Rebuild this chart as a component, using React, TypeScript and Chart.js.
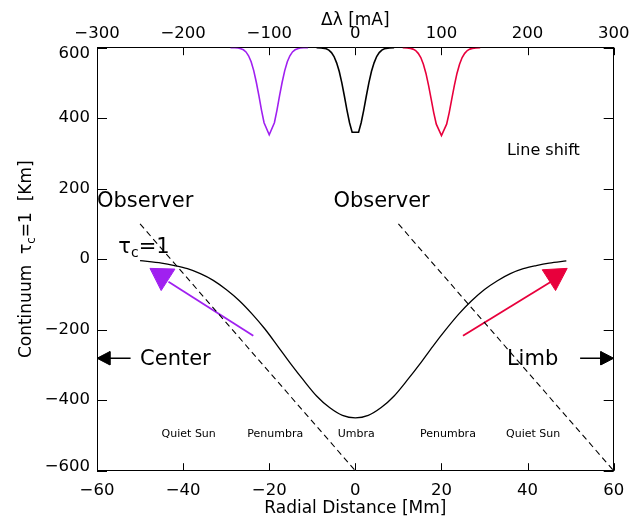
import React, { useEffect, useRef } from "react";
import { Chart, registerables } from "chart.js";

Chart.register(...registerables);

const FONT = "'DejaVu Sans', sans-serif";
const PURPLE = "#a020f0";
const RED = "#e8003c";

// Continuum tau_c = 1 surface across the spot: radial distance [Mm] vs height [km]
const radialMm = [-50, -45, -42, -39, -36, -33, -30, -27, -24, -21, -18, -15, -12, -9, -6, -3, 0, 3, 6, 9, 12, 15, 18, 21, 24, 27, 30, 33, 36, 39, 42, 45, 49];
const tauHeightKm = [-4, -11, -18, -27, -41, -60, -86, -117, -155, -198, -247, -297, -344, -388, -421, -443, -450, -443, -421, -388, -344, -297, -247, -200, -156, -118, -86, -61, -41, -27, -18, -11, -5];

// Lines of sight towards the observer
const sightCenterX = [-50, 0];
const sightCenterY = [100, -600];
const sightLimbX = [10, 60];
const sightLimbY = [100, -600];

// Blue-shifted flow arrow (center side)
const blueShaftX = [-23.7, -43.4];
const blueShaftY = [-217, -64];
const blueHeadX = [-47.7, -41.9, -45.1, -47.7];
const blueHeadY = [-26, -28, -89, -26];

// Red-shifted flow arrow (limb side)
const redShaftX = [25, 46.1];
const redShaftY = [-217, -59];
const redHeadX = [43.4, 49.2, 46.5, 43.4];
const redHeadY = [-30, -26, -89, -30];

// Direction markers
const centerShaftX = [-52.2, -57];
const centerShaftY = [-281, -281];
const centerHeadX = [-60, -57, -57, -60];
const centerHeadY = [-281, -262, -300, -281];
const limbShaftX = [52.2, 57];
const limbShaftY = [-281, -281];
const limbHeadX = [60, 57, 57, 60];
const limbHeadY = [-281, -262, -300, -281];

// Spectral line profiles: wavelength shift [mA] vs intensity (plotted on the height scale)
const blueProfileDl = [-145, -140, -136, -133, -130, -127, -124, -121, -118, -115, -112, -109, -106, -100, -94, -91, -88, -85, -82, -79, -76, -73, -70, -67, -64, -60, -55];
const blueProfileI = [600, 600, 599, 597, 594, 588, 577, 560, 535, 502, 464, 423, 387, 353, 387, 423, 464, 502, 535, 560, 577, 588, 594, 597, 599, 600, 600];
const restProfileDl = [-45, -39.75, -33.75, -30.75, -27.75, -24.75, -21.75, -18.75, -15.75, -12.75, -9.75, -6.75, -3.75, 3.75, 6.75, 9.75, 12.75, 15.75, 18.75, 21.75, 24.75, 27.75, 30.75, 33.75, 39.75, 45];
const restProfileI = [600, 599, 597, 593, 586, 575, 557, 533, 501, 463, 423, 387, 360, 360, 387, 423, 463, 501, 533, 557, 575, 586, 593, 597, 599, 600];
const redProfileDl = [55, 60, 64, 67, 70, 73, 76, 79, 82, 85, 88, 91, 94, 100, 106, 109, 112, 115, 118, 121, 124, 127, 130, 133, 136, 140, 145];
const redProfileI = [600, 599, 598, 596, 592, 584, 572, 553, 527, 493, 455, 416, 383, 351, 383, 416, 455, 493, 527, 553, 572, 584, 592, 596, 598, 599, 600];

// Axis ranges and tick steps
const radialRange = [-60, 60];
const radialStep = 20;
const shiftRange = [-300, 300];
const shiftStep = 100;
const heightRange = [-600, 600];
const heightStep = 200;

const zip = (xs: number[], ys: number[]) => xs.map((x, i) => ({ x, y: ys[i] }));
const minus = (v: number | string) => String(v).replace("-", "\u2212");

type Note = { text: string; x: number; y: number; size: number; align: CanvasTextAlign };
const notes: Note[] = [
  { text: "Observer", x: -60, y: 148, size: 21, align: "left" },
  { text: "Observer", x: -5.1, y: 148, size: 21, align: "left" },
  { text: "Center", x: -50, y: -300, size: 21, align: "left" },
  { text: "Limb", x: 35.2, y: -300, size: 21, align: "left" },
  { text: "Line shift", x: 35.2, y: 296, size: 16, align: "left" },
  { text: "Quiet Sun", x: -38.7, y: -503, size: 11, align: "center" },
  { text: "Penumbra", x: -18.6, y: -503, size: 11, align: "center" },
  { text: "Umbra", x: 0.2, y: -503, size: 11, align: "center" },
  { text: "Penumbra", x: 21.5, y: -503, size: 11, align: "center" },
  { text: "Quiet Sun", x: 41.3, y: -503, size: 11, align: "center" },
];

const decorations = {
  id: "decorations",
  afterDraw(chart: any) {
    const { ctx, chartArea: a, scales } = chart;
    const sx = scales.x;
    const sy = scales.y;
    ctx.save();

    // inward tick marks on all four sides
    ctx.strokeStyle = "#000";
    ctx.lineWidth = 1;
    ctx.beginPath();
    for (const t of scales.x.ticks) {
      const p = Math.round(sx.getPixelForValue(t.value)) + 0.5;
      ctx.moveTo(p, a.bottom);
      ctx.lineTo(p, a.bottom - 7.5);
    }
    for (const t of scales.x2.ticks) {
      const p = Math.round(scales.x2.getPixelForValue(t.value)) + 0.5;
      ctx.moveTo(p, a.top);
      ctx.lineTo(p, a.top + 7.5);
    }
    for (const t of scales.y.ticks) {
      const p = Math.round(sy.getPixelForValue(t.value)) + 0.5;
      ctx.moveTo(a.left, p);
      ctx.lineTo(a.left + 10, p);
    }
    for (const t of scales.y2.ticks) {
      const p = Math.round(scales.y2.getPixelForValue(t.value)) + 0.5;
      ctx.moveTo(a.right, p);
      ctx.lineTo(a.right - 10, p);
    }
    ctx.stroke();

    // left axis labels (end labels pulled inside the frame)
    ctx.fillStyle = "#000";
    ctx.font = `16.5px ${FONT}`;
    ctx.textAlign = "right";
    ctx.textBaseline = "middle";
    for (const t of scales.y.ticks) {
      let p = sy.getPixelForValue(t.value);
      if (t.value === heightRange[1]) p += 6.5;
      if (t.value === heightRange[0]) p -= 4;
      ctx.fillText(minus(t.value), a.left - 7, p);
    }

    // left axis title with subscript
    ctx.save();
    ctx.translate(25, (a.top + a.bottom) / 2);
    ctx.rotate(-Math.PI / 2);
    ctx.textAlign = "left";
    ctx.textBaseline = "alphabetic";
    const big = `17px ${FONT}`;
    const small = `12px ${FONT}`;
    const parts: [string, string, number][] = [
      ["Continuum  \u03c4", big, 0],
      ["c", small, 4],
      ["=1  [Km]", big, 0],
    ];
    let total = 0;
    for (const [s, f] of parts) {
      ctx.font = f;
      total += ctx.measureText(s).width;
    }
    let cx = -total / 2;
    for (const [s, f, dy] of parts) {
      ctx.font = f;
      ctx.fillText(s, cx, 6 + dy);
      cx += ctx.measureText(s).width;
    }
    ctx.restore();

    // annotations placed in data coordinates
    ctx.textBaseline = "alphabetic";
    for (const n of notes) {
      ctx.font = `${n.size}px ${FONT}`;
      ctx.textAlign = n.align;
      ctx.fillText(n.text, sx.getPixelForValue(n.x), sy.getPixelForValue(n.y));
    }

    // tau_c = 1 label
    ctx.textAlign = "left";
    let tx = sx.getPixelForValue(-55.05);
    const ty = sy.getPixelForValue(18.4);
    ctx.font = `21px ${FONT}`;
    ctx.fillText("\u03c4", tx, ty);
    tx += ctx.measureText("\u03c4").width;
    ctx.font = `14px ${FONT}`;
    ctx.fillText("c", tx, ty + 4);
    tx += ctx.measureText("c").width;
    ctx.font = `21px ${FONT}`;
    ctx.fillText("=1", tx, ty);

    ctx.restore();
  },
};

const lineSet = (data: { x: number; y: number }[], color: string, width: number, extra: any = {}) => ({
  data,
  showLine: true,
  borderColor: color,
  backgroundColor: color,
  borderWidth: width,
  pointRadius: 0,
  pointHoverRadius: 0,
  tension: 0,
  ...extra,
});

const headSet = (data: { x: number; y: number }[], color: string) =>
  lineSet(data, color, 1, { fill: "shape", backgroundColor: color });

const noSidePadding = (s: any) => {
  s.paddingLeft = 0;
  s.paddingRight = 0;
};

export default function App() {
  const ref = useRef<HTMLCanvasElement>(null);

  useEffect(() => {
    const canvas = ref.current;
    if (!canvas) return;
    Chart.defaults.font.family = FONT;
    Chart.defaults.color = "#000";

    const tickFont = { family: FONT, size: 16.5 };
    const titleFont = { family: FONT, size: 17 };
    const hidden = { drawOnChartArea: false, drawTicks: false };
    const border = { display: true, color: "#000", width: 1 };

    const chart = new Chart(canvas, {
      type: "scatter",
      data: {
        datasets: [
          lineSet(zip(radialMm, tauHeightKm), "#000", 1.3, { cubicInterpolationMode: "monotone" }),
          lineSet(zip(sightCenterX, sightCenterY), "#000", 1.1, { borderDash: [6, 4] }),
          lineSet(zip(sightLimbX, sightLimbY), "#000", 1.1, { borderDash: [6, 4] }),
          lineSet(zip(blueShaftX, blueShaftY), PURPLE, 1.8),
          headSet(zip(blueHeadX, blueHeadY), PURPLE),
          lineSet(zip(redShaftX, redShaftY), RED, 1.8),
          headSet(zip(redHeadX, redHeadY), RED),
          lineSet(zip(centerShaftX, centerShaftY), "#000", 1.3),
          headSet(zip(centerHeadX, centerHeadY), "#000"),
          lineSet(zip(limbShaftX, limbShaftY), "#000", 1.3),
          headSet(zip(limbHeadX, limbHeadY), "#000"),
          lineSet(zip(blueProfileDl, blueProfileI), PURPLE, 1.6, { xAxisID: "x2" }),
          lineSet(zip(restProfileDl, restProfileI), "#000", 1.6, { xAxisID: "x2" }),
          lineSet(zip(redProfileDl, redProfileI), RED, 1.6, { xAxisID: "x2" }),
        ],
      },
      options: {
        responsive: false,
        animation: false,
        devicePixelRatio: 1,
        layout: { padding: 0 },
        plugins: { legend: { display: false }, tooltip: { enabled: false } },
        events: [],
        scales: {
          x: {
            type: "linear",
            position: "bottom",
            min: radialRange[0],
            max: radialRange[1],
            ticks: { stepSize: radialStep, padding: 10.5, font: tickFont, color: "#000", autoSkip: false, maxRotation: 0, callback: (v: any) => minus(v) },
            grid: hidden,
            border,
            title: { display: true, text: "Radial Distance [Mm]", font: titleFont, color: "#000", padding: { top: 0, bottom: 3 } },
            afterFit: (s: any) => { s.height = 51.3; noSidePadding(s); },
          },
          x2: {
            type: "linear",
            position: "top",
            min: shiftRange[0],
            max: shiftRange[1],
            ticks: { stepSize: shiftStep, padding: 4, font: tickFont, color: "#000", autoSkip: false, maxRotation: 0, callback: (v: any) => minus(v) },
            grid: hidden,
            border,
            title: { display: true, text: "\u0394\u03bb [mA]", font: titleFont, color: "#000", padding: { top: 10, bottom: 0 } },
            afterFit: (s: any) => { s.height = 47.7; noSidePadding(s); },
          },
          y: {
            type: "linear",
            position: "left",
            min: heightRange[0],
            max: heightRange[1],
            ticks: { stepSize: heightStep, display: false },
            grid: hidden,
            border,
            afterFit: (s: any) => { s.width = 97; },
          },
          y2: {
            type: "linear",
            position: "right",
            min: heightRange[0],
            max: heightRange[1],
            ticks: { stepSize: heightStep, display: false },
            grid: hidden,
            border,
            afterFit: (s: any) => { s.width = 15.3; },
          },
        },
      } as any,
      plugins: [decorations],
    });

    return () => chart.destroy();
  }, []);

  return (
    <div style={{ position: "absolute", left: 0, top: 0, width: 629, height: 522, background: "#fff" }}>
      <canvas ref={ref} width={629} height={522} style={{ display: "block", width: 629, height: 522 }} />
    </div>
  );
}
